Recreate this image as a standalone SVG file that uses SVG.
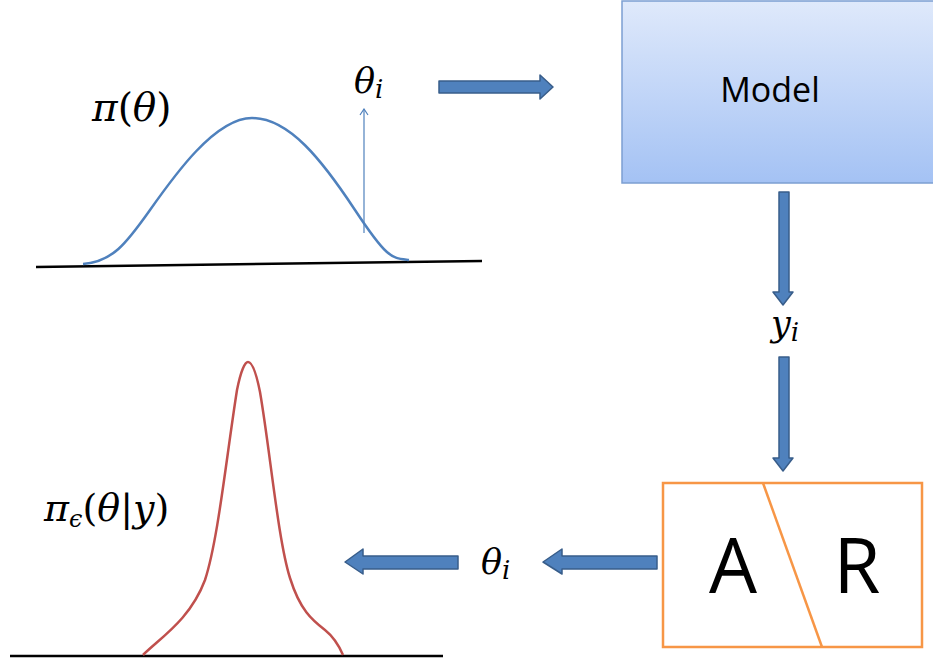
<svg xmlns="http://www.w3.org/2000/svg" width="933" height="662" viewBox="0 0 933 662">
<defs>
<linearGradient id="mg" x1="0" y1="0" x2="0" y2="1">
<stop offset="0" stop-color="#dfe9fb"/>
<stop offset="1" stop-color="#a4c2f4"/>
</linearGradient>
<marker id="thin" viewBox="0 0 10 10" refX="9" refY="5" markerWidth="10" markerHeight="10" markerUnits="userSpaceOnUse" orient="auto">
<path d="M3,1 L9,5 L3,9" fill="none" stroke="#4f81bd" stroke-width="1.2"/>
</marker>
</defs>
<style>
.math{font-family:"DejaVu Serif","Liberation Serif",serif;font-style:italic;fill:#000}
.up{font-style:normal}
.sans{font-family:"Open Sans","Liberation Sans",sans-serif;fill:#000}
.blk{fill:#4f81bd;stroke:#385d8a;stroke-width:1.5;stroke-linejoin:round}
.axis{stroke:#000;stroke-width:2.5;fill:none}
</style>
<rect width="933" height="662" fill="#fff"/>

<g id="prior">
<line class="axis" x1="36" y1="267" x2="482" y2="261"/>
<path d="M83,264 C112,262 126,244 150,210 S215,118 252,118 S322,160 355,210 S392,258 409,260" fill="none" stroke="#4f81bd" stroke-width="2.5"/>
<line x1="364" y1="233" x2="364" y2="109" stroke="#4f81bd" stroke-width="1.2" marker-end="url(#thin)"/>
<text class="math" x="92" y="121" font-size="39">π<tspan class="up">(</tspan>θ<tspan class="up">)</tspan></text>
<text class="math" x="354" y="93" font-size="35">θ<tspan font-size="26" dy="5">i</tspan></text>
</g>

<g id="model">
<rect x="622" y="1" width="312" height="182" fill="url(#mg)" stroke="#7c9fd2" stroke-width="1.5"/>
<text class="sans" x="770" y="102" font-size="34" text-anchor="middle">Model</text>
</g>

<g id="ar">
<rect x="663" y="483" width="259" height="164" fill="#fff" stroke="#f79646" stroke-width="2.5"/>
<line x1="763" y1="483" x2="822" y2="647" stroke="#f79646" stroke-width="2.5"/>
<text class="sans" x="733" y="593" font-size="76" text-anchor="middle">A</text>
<text class="sans" x="857" y="593" font-size="76" text-anchor="middle">R</text>
</g>

<g id="posterior">
<line class="axis" x1="10" y1="656" x2="443" y2="656"/>
<path d="M143,655 C160,638 190,620 205,580 C218,540 226,460 237,390 C241,370 245,362 248,362 C252,362 256,372 260,392 C270,450 278,540 290,578 C300,610 312,620 325,630 C335,638 340,648 343,655" fill="none" stroke="#c0504d" stroke-width="2.5"/>
<text class="math" x="44" y="521" font-size="38">π<tspan font-size="24" dy="6">ϵ</tspan><tspan class="up" dy="-6">(</tspan>θ<tspan class="up">|</tspan>y<tspan class="up">)</tspan></text>
</g>

<g id="labels">
<text class="math" x="771" y="336" font-size="35">y<tspan font-size="26" dy="5">i</tspan></text>
<text class="math" x="481" y="574" font-size="35">θ<tspan font-size="26" dy="5">i</tspan></text>
</g>

<g id="connectors">
<path class="blk" d="M439,81 L540,81 L540,75 L553,87 L540,99 L540,93 L439,93 Z"/>
<path class="blk" d="M779,192 L789,192 L789,292 L793,292 L783,305 L773,292 L779,292 Z"/>
<path class="blk" d="M779,357 L789,357 L789,458 L793,458 L783,471 L773,458 L779,458 Z"/>
<path class="blk" d="M657,556 L562,556 L562,549 L543,562 L562,574 L562,569 L657,569 Z"/>
<path class="blk" d="M458,556 L363,556 L363,549 L345,562 L363,574 L363,569 L458,569 Z"/>
</g>
</svg>
